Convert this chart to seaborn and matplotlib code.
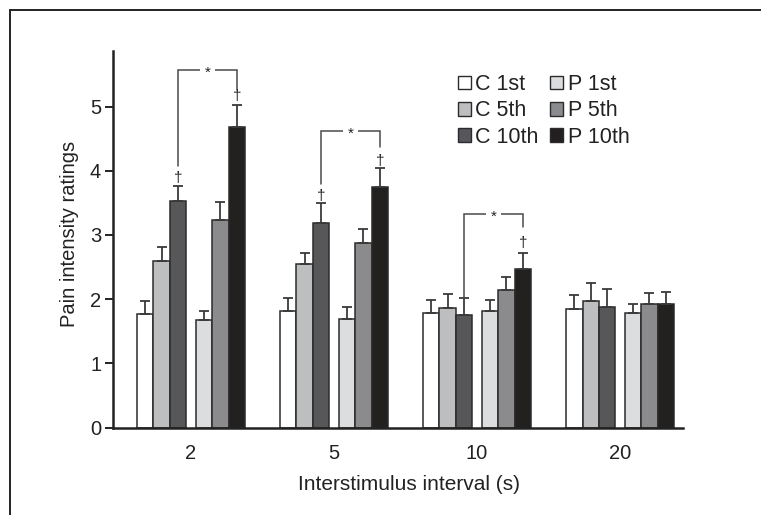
import numpy as np
import pandas as pd
import matplotlib
matplotlib.use("Agg")
import matplotlib.pyplot as plt
import matplotlib.colors as mcolors
import seaborn as sns
from matplotlib.patches import Patch
from matplotlib.lines import Line2D

# ---------------- data ----------------
intervals = ["2", "5", "10", "20"]
levels_c = ["C 1st", "C 5th", "C 10th"]
levels_p = ["P 1st", "P 5th", "P 10th"]

c_1st = [1.77, 1.82, 1.79, 1.85]
c_5th = [2.60, 2.54, 1.86, 1.97]
c_10th = [3.53, 3.19, 1.76, 1.87]
p_1st = [1.68, 1.69, 1.81, 1.79]
p_5th = [3.24, 2.87, 2.14, 1.92]
p_10th = [4.68, 3.75, 2.47, 1.92]

c_1st_err = [0.20, 0.20, 0.19, 0.22]
c_5th_err = [0.21, 0.18, 0.22, 0.28]
c_10th_err = [0.24, 0.30, 0.25, 0.28]
p_1st_err = [0.13, 0.19, 0.18, 0.14]
p_5th_err = [0.27, 0.23, 0.20, 0.18]
p_10th_err = [0.35, 0.29, 0.25, 0.19]

# significance brackets (C 10th vs P 10th) per interval index
sig_groups = [0, 1, 2]
sig_left_bottom = [4.08, 3.79, 2.02]
sig_right_bottom = [5.28, 4.37, 3.13]
sig_top = [5.57, 4.62, 3.33]

# daggers: (interval index, level, y)
dagger_groups = [0, 0, 1, 1, 2]
dagger_levels = ["C 10th", "P 10th", "C 10th", "P 10th", "P 10th"]
dagger_y = [3.88, 5.16, 3.61, 4.15, 2.87]

colors = {
    "C 1st": "#ffffff",
    "C 5th": "#bdbec0",
    "C 10th": "#56575b",
    "P 1st": "#dcdddf",
    "P 5th": "#8a8b8f",
    "P 10th": "#231f20",
}

values = {"C 1st": c_1st, "C 5th": c_5th, "C 10th": c_10th,
          "P 1st": p_1st, "P 5th": p_5th, "P 10th": p_10th}
errors = {"C 1st": c_1st_err, "C 5th": c_5th_err, "C 10th": c_10th_err,
          "P 1st": p_1st_err, "P 5th": p_5th_err, "P 10th": p_10th_err}

# ---------------- style ----------------
sns.set_style("ticks")
plt.rcParams["font.family"] = ["Liberation Sans", "DejaVu Sans"]
TXT = "#222222"
EDGE = "#2b2b2b"

fig = plt.figure(figsize=(7.61, 5.15), dpi=100)
ax = fig.add_axes([113 / 761, 1 - 427.5 / 515, 570 / 761, (427.5 - 50.7) / 515])

bar_w = 0.115
gap = 0.065
offset = (3 * bar_w + gap) / 2


def make_df(levels, shift):
    rows = []
    for lvl in levels:
        for gi, v in enumerate(values[lvl]):
            rows.append(dict(pos=gi + shift, level=lvl, value=v))
    return pd.DataFrame(rows)


for levels, shift in ((levels_c, -offset), (levels_p, offset)):
    sns.barplot(data=make_df(levels, shift), x="pos", y="value", hue="level",
                hue_order=levels, palette=colors, native_scale=True,
                width=3 * bar_w, dodge=True, errorbar=None,
                edgecolor=EDGE, linewidth=1.1, legend=False, ax=ax)

# map patches -> (level, group)
rgba = {k: np.array(mcolors.to_rgba(c)) for k, c in colors.items()}
geom = {}
for p in ax.patches:
    fc = np.array(p.get_facecolor())
    lvl = min(rgba, key=lambda k: np.abs(rgba[k][:3] - fc[:3]).sum())
    cx = p.get_x() + p.get_width() / 2
    gi = int(round(cx))
    geom[(lvl, gi)] = (cx, p.get_height())

for (lvl, gi), (cx, h) in geom.items():
    ax.errorbar(cx, h, yerr=[[0], [errors[lvl][gi]]], fmt="none",
                ecolor="#3a3a3a", elinewidth=1.3, capsize=3.3, capthick=1.3,
                zorder=1)

# brackets
for g, lb, rb, top in zip(sig_groups, sig_left_bottom, sig_right_bottom, sig_top):
    xl = geom[("C 10th", g)][0]
    xr = geom[("P 10th", g)][0]
    ax.plot([xl, xl, xr, xr], [lb, top, top, rb], color="#4a4a4a", lw=1.1,
            solid_joinstyle="miter", zorder=3)
    ax.text((xl + xr) / 2, top - 0.04, "*", ha="center", va="center", fontsize=11,
            color=TXT, zorder=4,
            bbox=dict(boxstyle="square,pad=0.3", facecolor="white", edgecolor="none"))

for g, lvl, y in zip(dagger_groups, dagger_levels, dagger_y):
    ax.text(geom[(lvl, g)][0], y, "\u2020", ha="center", va="center",
            fontsize=11, color=TXT, zorder=4)

# axes
ax.set_xlim(-0.545, 3.44)
ax.set_ylim(0, 5.87)
ax.set_xticks(range(len(intervals)))
ax.set_xticklabels(intervals)
ax.set_yticks([0, 1, 2, 3, 4, 5])
ax.tick_params(axis="x", length=0, pad=12, labelsize=14.5, labelcolor=TXT)
ax.tick_params(axis="y", length=6, width=1.4, pad=2.5, labelsize=14.5,
               labelcolor=TXT, color=TXT, direction="out")
for s in ("top", "right"):
    ax.spines[s].set_visible(False)
for s in ("left", "bottom"):
    ax.spines[s].set_color(TXT)
    ax.spines[s].set_linewidth(1.8)
ax.set_facecolor("none")

ax.set_xlabel("Interstimulus interval (s)", fontsize=15, color=TXT)
ax.set_ylabel("Pain intensity ratings", fontsize=14.5, color=TXT)
ax.xaxis.set_label_coords((409 - 113) / 570, (427.5 - 485) / 376.8)
ax.xaxis.label.set_va("center")
ax.yaxis.set_label_coords((69.5 - 113) / 570, (427.5 - 234) / 376.8)
ax.yaxis.label.set_va("center")

# legend
handles = [Patch(facecolor=colors[l], edgecolor=EDGE, linewidth=1.0, label=l)
           for l in levels_c + levels_p]
ax.legend(handles=handles, ncol=2, loc="upper left",
          bbox_to_anchor=((458 - 113) / 570, (427.5 - 74) / 376.8),
          frameon=False, fontsize=15.5, handlelength=0.6, handleheight=0.6,
          handletextpad=0.2, columnspacing=0.55, labelspacing=0.25,
          borderpad=0, borderaxespad=0, labelcolor=TXT)

# outer frame (top and left)
fig.add_artist(Line2D([9.5 / 761, 1], [1 - 10 / 515] * 2, transform=fig.transFigure,
                      color="#222222", lw=1.4))
fig.add_artist(Line2D([9.5 / 761] * 2, [0, 1 - 10 / 515], transform=fig.transFigure,
                      color="#222222", lw=1.4))

fig.savefig("out.png", dpi=100, facecolor="white")
